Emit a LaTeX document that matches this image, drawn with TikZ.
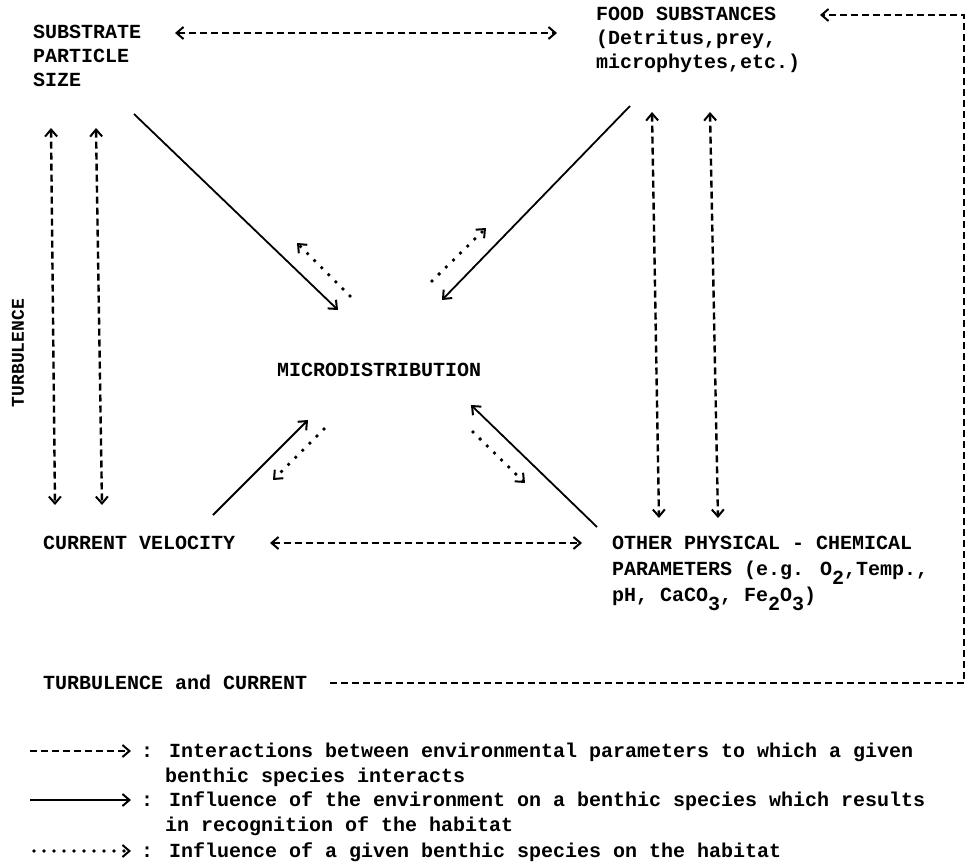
\documentclass[tikz,border=0pt]{standalone}
\usepackage{fontspec}
\setmainfont{Liberation Mono}
\usetikzlibrary{arrows.meta}
\newcommand\lowsub[1]{\raisebox{-9pt}{#1}}
\begin{document}
\begin{tikzpicture}[x=1pt,y=-1pt,
  lbl/.style={inner sep=0pt, font=\fontsize{20}{24}\selectfont\bfseries, anchor=base west},
  tipe/.style={-{Straight Barb[length=7pt,width=12pt,line width=2pt]}},
  dtip/.style={{Straight Barb[length=7pt,width=12pt,line width=2pt]}-{Straight Barb[length=7pt,width=12pt,line width=2pt]}},
  dashline/.style={line width=2.4pt, dash pattern=on 7pt off 4pt},
  solidline/.style={line width=1.8pt},
  dotline/.style={line width=3.8pt, line cap=round, dash pattern=on 0pt off 10pt},
]
\fill[white] (0,0) rectangle (978,867);
\useasboundingbox (0,0) rectangle (978,867);

% labels
\node[lbl] (sub1) at (33,39) {SUBSTRATE};
\node[lbl] (sub2) at (33,63) {PARTICLE};
\node[lbl] (sub3) at (33,87) {SIZE};
\node[lbl] (food1) at (596,21) {FOOD SUBSTANCES};
\node[lbl] (food2) at (596,45) {(Detritus,prey,};
\node[lbl] (food3) at (596,69) {microphytes,etc.)};
\node[lbl] (micro) at (277,376) {MICRODISTRIBUTION};
\node[lbl] (cur) at (43,549) {CURRENT VELOCITY};
\node[lbl] (oth1) at (612,549) {OTHER PHYSICAL - CHEMICAL};
\node[lbl] (oth2) at (612,575) {PARAMETERS (e.g. O\lowsub{2},Temp.,};
\node[lbl] (oth3) at (612,601) {pH, CaCO\lowsub{3}, Fe\lowsub{2}O\lowsub{3})};
\node[lbl, font=\fontsize{18}{22}\selectfont\bfseries, rotate=90, anchor=center] (turb) at (18,353) {TURBULENCE};
\node[lbl] (tc) at (43,689) {TURBULENCE and CURRENT};

% coordinates for connector ends
\coordinate (subR) at (175,33);
\coordinate (foodL) at (557,33);
\coordinate (foodR) at (820,15);
\coordinate (loopC) at (964,15);
\coordinate (tcR) at (330,683);
\coordinate (lv1t) at (51,128);
\coordinate (lv1b) at (55,505);
\coordinate (lv2t) at (96,128);
\coordinate (lv2b) at (102,505);
\coordinate (rv1t) at (652,112);
\coordinate (rv1b) at (659,518);
\coordinate (rv2t) at (710,112);
\coordinate (rv2b) at (718,518);
\coordinate (curR) at (270,543);
\coordinate (othL) at (582,543);
% solid arrows
\coordinate (s1a) at (134,114); \coordinate (s1b) at (338,310);
\coordinate (s2a) at (630,106); \coordinate (s2b) at (442,300);
\coordinate (s3a) at (213,515); \coordinate (s3b) at (308,420);
\coordinate (s4a) at (597,527); \coordinate (s4b) at (471,405);
% dotted arrows
\coordinate (d1a) at (350,296); \coordinate (d1b) at (297,243);
\coordinate (d2a) at (432,281); \coordinate (d2b) at (486,228);
\coordinate (d3a) at (324,429); \coordinate (d3b) at (273,480);
\coordinate (d4a) at (473,432); \coordinate (d4b) at (525,483);

% dashed interactions
\draw[dashline, dtip] (subR) -- (foodL);
\draw[dashline, dtip] (curR) -- (othL);
\draw[dashline, dtip] (lv1t) -- (lv1b);
\draw[dashline, dtip] (lv2t) -- (lv2b);
\draw[dashline, dtip] (rv1t) -- (rv1b);
\draw[dashline, dtip] (rv2t) -- (rv2b);
\draw[dashline, tipe] (tcR) -| (loopC) -- (foodR);

% solid influences
\draw[solidline, tipe] (s1a) -- (s1b);
\draw[solidline, tipe] (s2a) -- (s2b);
\draw[solidline, tipe] (s3a) -- (s3b);
\draw[solidline, tipe] (s4a) -- (s4b);

% dotted influences
\draw[dotline, tipe] (d1a) -- (d1b);
\draw[dotline, tipe] (d2a) -- (d2b);
\draw[dotline, tipe] (d3a) -- (d3b);
\draw[dotline, tipe] (d4a) -- (d4b);

% legend
\coordinate (k1a) at (30,751); \coordinate (k1b) at (131,751);
\coordinate (k2a) at (30,800); \coordinate (k2b) at (131,800);
\coordinate (k3a) at (34,851); \coordinate (k3b) at (131,851);
\draw[dashline, tipe] (k1a) -- (k1b);
\draw[solidline, tipe] (k2a) -- (k2b);
\draw[dotline, tipe] (k3a) -- (k3b);
\node[lbl] (key1) at (141,757) {: Interactions between environmental parameters to which a given};
\node[lbl] (key1b) at (165,782) {benthic species interacts};
\node[lbl] (key2) at (141,806) {: Influence of the environment on a benthic species which results};
\node[lbl] (key2b) at (165,831) {in recognition of the habitat};
\node[lbl] (key3) at (141,857) {: Influence of a given benthic species on the habitat};
\end{tikzpicture}
\end{document}
